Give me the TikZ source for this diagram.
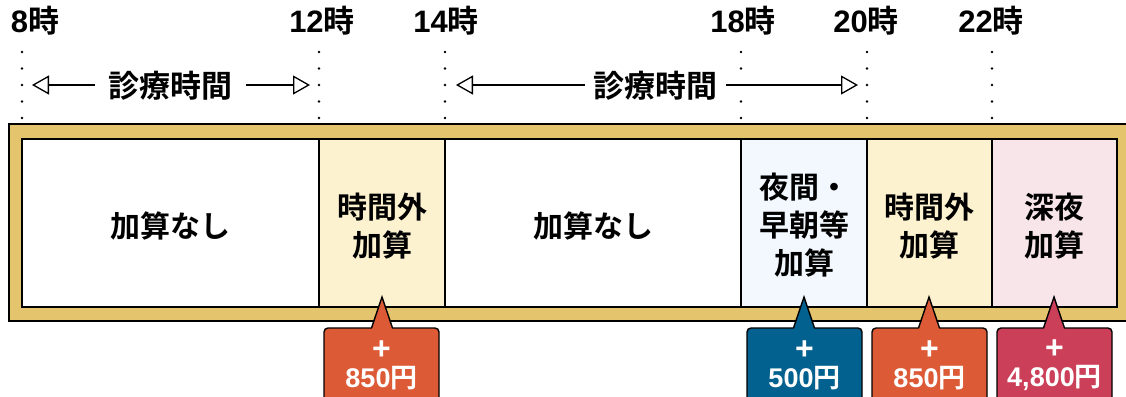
\documentclass[tikz,border=0pt]{standalone}
\usepackage{fontspec}
\setmainfont{Noto Sans CJK JP}[BoldFont={Noto Sans CJK JP Bold}]
\newfontfamily\dg{Liberation Sans}
\usetikzlibrary{arrows.meta}
\definecolor{cgold}{HTML}{E4C46C}
\definecolor{cyel}{HTML}{FDF2CF}
\definecolor{cblue}{HTML}{F2F8FD}
\definecolor{cpink}{HTML}{F7E5EA}
\definecolor{corange}{HTML}{DD5A36}
\definecolor{cnavy}{HTML}{03618F}
\definecolor{cred}{HTML}{CB4058}
\begin{document}
\begin{tikzpicture}[x=1pt,y=-1pt,
  timelbl/.style={font=\fontsize{31}{31}\selectfont\bfseries, inner sep=0pt},
  spanlbl/.style={font=\fontsize{31}{31}\selectfont\bfseries, inner sep=0pt},
  celltxt/.style={font=\fontsize{30}{38}\selectfont\bfseries, align=center, inner sep=0pt},
  calltxt/.style={font=\fontsize{27}{28}\selectfont\bfseries, align=center, text=white, inner sep=0pt},
  cellbox/.style={draw=black, line width=1.4pt},
  spanarrow/.style={line width=1.2pt, -{Triangle[open, length=17pt, width=19pt, line width=1.3pt]}},
  calloutbox/.style={line width=1.4pt, rounded corners=4pt}]
\useasboundingbox (0,0) rectangle (1126,396);
\clip (0,0) rectangle (1126,396);
% time labels
\node[timelbl] (t8) at (35,21) {{\dg 8}時};
\node[timelbl] (t12) at (322,21) {{\dg 12}時};
\node[timelbl] (t14) at (446,21) {{\dg 14}時};
\node[timelbl] (t18) at (743,21) {{\dg 18}時};
\node[timelbl] (t20) at (866,21) {{\dg 20}時};
\node[timelbl] (t22) at (991,21) {{\dg 22}時};
% dotted guides
\foreach \x in {22,319,445,867,992}{
  \foreach \y in {52,68.5,85,101.5,118}{
    \fill (\x,\y) circle (1.3pt);
  }
}
\foreach \y in {52,68.5,101.5,118}{
  \fill (741,\y) circle (1.3pt);
}
% outer frame
\filldraw[fill=cgold, draw=black, line width=1.4pt] (9,124) rectangle (1135,321);
% cells
\filldraw[cellbox, fill=white] (22,139) rectangle (319,307);
\filldraw[cellbox, fill=cyel] (319,139) rectangle (445,307);
\filldraw[cellbox, fill=white] (445,139) rectangle (741,307);
\filldraw[cellbox, fill=cblue] (741,139) rectangle (867,307);
\filldraw[cellbox, fill=cyel] (867,139) rectangle (992,307);
\filldraw[cellbox, fill=cpink] (992,139) rectangle (1117,307);
\node[celltxt] (c1) at (170.5,226) {加算なし};
\node[celltxt] (c2) at (382,226) {時間外\\加算};
\node[celltxt] (c3) at (593,226) {加算なし};
\node[celltxt] (c4) at (804,225) {夜間・\\早朝等\\加算};
\node[celltxt] (c5) at (929.5,226) {時間外\\加算};
\node[celltxt] (c6) at (1054.5,226) {深夜\\加算};
% span arrows
\node[spanlbl] (s1) at (170.5,86) {診療時間};
\node[spanlbl] (s2) at (655,86) {診療時間};
\coordinate (a1l) at (32,85);
\coordinate (a1r) at (310,85);
\coordinate (a2l) at (456,85);
\coordinate (a2r) at (858,85);
\draw[spanarrow] ([xshift=-13pt]s1.west |- a1l) -- (a1l);
\draw[spanarrow] ([xshift=13pt]s1.east |- a1r) -- (a1r);
\draw[spanarrow] ([xshift=-8pt]s2.west |- a2l) -- (a2l);
\draw[spanarrow] ([xshift=9pt]s2.east |- a2r) -- (a2r);
% callouts
\foreach \xa/\xb/\tip/\col/\nm/\txt in {324/439/382/corange/k1/850, 747/862/804/cnavy/k2/500, 872/987/929/corange/k3/850, 997/1112/1054/cred/k4/{4,800}}{
  \filldraw[calloutbox, fill=\col, draw=black] (\xa,328) rectangle (\xb,410);
  \fill[\col] (\tip-10.5,330) -- (\tip,297) -- (\tip+10.5,330) -- cycle;
  \draw[line width=1.4pt, line join=miter] (\tip-10.5,328) -- (\tip,297) -- (\tip+10.5,328);
  \node[calltxt] (\nm) at ({(\xa+\xb)/2},365) {{\dg\fontsize{32}{28}\selectfont +}\\{\dg\txt}円};
}
\end{tikzpicture}
\end{document}
